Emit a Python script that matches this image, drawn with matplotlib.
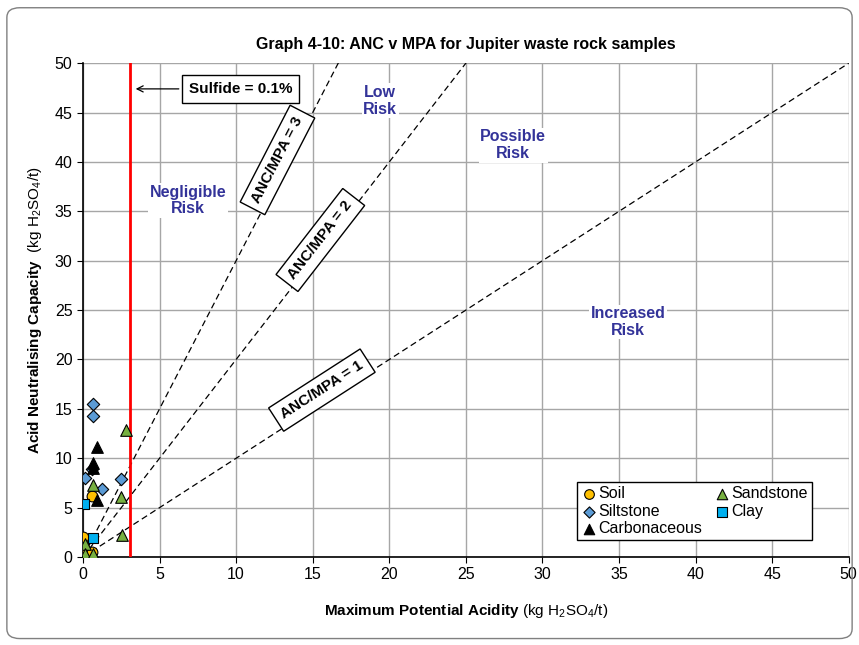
import matplotlib
matplotlib.use('Agg')
import matplotlib.pyplot as plt
from matplotlib.patches import FancyBboxPatch
import numpy as np

plt.rcParams['font.family'] = ['Liberation Sans', 'DejaVu Sans']
plt.rcParams['mathtext.fontset'] = 'custom'
plt.rcParams['mathtext.rm'] = 'Liberation Sans'
plt.rcParams['mathtext.bf'] = 'Liberation Sans:bold'
plt.rcParams['mathtext.it'] = 'Liberation Sans:italic'

# sample data (MPA, ANC)
soil_x = [0.57, 0.0, 0.13, 0.57]
soil_y = [6.2, 2.05, 0.3, 0.5]
silt_x = [0.63, 0.63, 0.13, 1.26, 2.46, 0.6]
silt_y = [15.5, 14.3, 7.97, 6.85, 7.86, 8.9]
clay_x = [0.07, 0.63]
clay_y = [5.4, 1.95]
sand_x = [2.81, 0.63, 2.46, 2.57, 0.13, 0.13, 0.67]
sand_y = [12.85, 7.3, 6.1, 2.2, 1.3, 0.3, 0.3]
carb_x = [0.89, 0.63, 0.63, 0.89]
carb_y = [11.1, 9.5, 9.0, 5.8]

ratios = [1, 2, 3]
sulfide_mpa = 3.06

fig = plt.figure(figsize=(8.59, 6.45), dpi=100)
ax = fig.add_axes([0.0966, 0.1364, 0.8914, 0.7656])

# outer rounded border
border = FancyBboxPatch((0.008, 0.01), 0.984, 0.978, boxstyle='round,pad=0,rounding_size=0.015',
                        transform=fig.transFigure, fill=False, edgecolor='#808080', lw=1.0)
fig.patches.append(border)

ax.set_xlim(0, 50)
ax.set_ylim(0, 50)
ax.set_xticks(np.arange(0, 51, 5))
ax.set_yticks(np.arange(0, 51, 5))
ax.grid(True, color='#a6a6a6', lw=1.0)
ax.set_axisbelow(True)
for s in ['top', 'right']:
    ax.spines[s].set_visible(False)
ax.spines['left'].set_linewidth(1.2)
ax.spines['bottom'].set_linewidth(1.2)
ax.tick_params(labelsize=11.5, length=4, direction='out')

xx = np.array([0, 50])
for r in ratios:
    ax.plot(xx, r * xx, 'k--', lw=0.9, dashes=(5, 3), zorder=2)
ax.axvline(sulfide_mpa, color='red', lw=2, zorder=3)

ax.scatter(soil_x, soil_y, marker='o', s=60, c='#FFC000', edgecolors='black', lw=0.8, zorder=5, label='Soil')
ax.scatter(silt_x, silt_y, marker='D', s=40, c='#5B9BD5', edgecolors='black', lw=0.8, zorder=5, label='Siltstone')
ax.scatter(carb_x, carb_y, marker='^', s=70, c='black', edgecolors='black', lw=0.8, zorder=5, label='Carbonaceous')
ax.scatter(sand_x, sand_y, marker='^', s=70, c='#77B040', edgecolors='black', lw=0.8, zorder=5, label='Sandstone')
ax.scatter(clay_x, clay_y, marker='s', s=60, c='#00B0F0', edgecolors='black', lw=0.8, zorder=6, label='Clay')

leg = ax.legend(ncol=2, loc='lower right', bbox_to_anchor=(0.962, 0.018), fontsize=11.5,
                frameon=True, fancybox=False, edgecolor='black', framealpha=1,
                handletextpad=0.1, columnspacing=0.7, labelspacing=0.15,
                borderpad=0.25, handlelength=1.0, markerscale=0.9)
leg.get_frame().set_linewidth(1.0)

# ratio labels
box = dict(boxstyle='square,pad=0.45', fc='white', ec='black', lw=1)
ax.text(12.7, 40.2, 'ANC/MPA = 3', rotation=62.7, ha='center', va='center',
        fontsize=11, fontweight='bold', bbox=box, rotation_mode='anchor', zorder=7)
ax.text(15.5, 32.1, 'ANC/MPA = 2', rotation=52.2, ha='center', va='center',
        fontsize=11, fontweight='bold', bbox=box, rotation_mode='anchor', zorder=7)
ax.text(15.6, 16.9, 'ANC/MPA = 1', rotation=32.8, ha='center', va='center',
        fontsize=11, fontweight='bold', bbox=box, rotation_mode='anchor', zorder=7)

# sulfide annotation
ax.annotate('Sulfide = 0.1%', xy=(sulfide_mpa + 0.2, 47.4), xytext=(10.3, 47.4),
            fontsize=11, fontweight='bold', ha='center', va='center',
            bbox=dict(boxstyle='square,pad=0.45', fc='white', ec='black', lw=1),
            arrowprops=dict(arrowstyle='->', color='black', lw=0.9), zorder=7)

risk_col = '#333399'
for tx, ty, t in [(6.85, 36.1, 'Negligible\nRisk'), (19.4, 46.2, 'Low\nRisk'),
                  (28.1, 41.7, 'Possible\nRisk'), (35.6, 23.8, 'Increased\nRisk')]:
    ax.text(tx, ty, t, color=risk_col, fontsize=11.5, fontweight='bold', ha='center', va='center',
            linespacing=1.15, bbox=dict(fc='white', ec='none', pad=1), zorder=4)

ax.set_title('Graph 4-10: ANC v MPA for Jupiter waste rock samples', fontsize=11.5,
             fontweight='bold', pad=10)
ax.set_xlabel(r'$\mathbf{Maximum\ Potential\ Acidity}$ (kg H$_2$SO$_4$/t)', fontsize=11, labelpad=14)
ax.set_ylabel(r'$\mathbf{Acid\ Neutralising\ Capacity}$  (kg H$_2$SO$_4$/t)', fontsize=11, labelpad=8)

fig.savefig('out.png', dpi=100)
